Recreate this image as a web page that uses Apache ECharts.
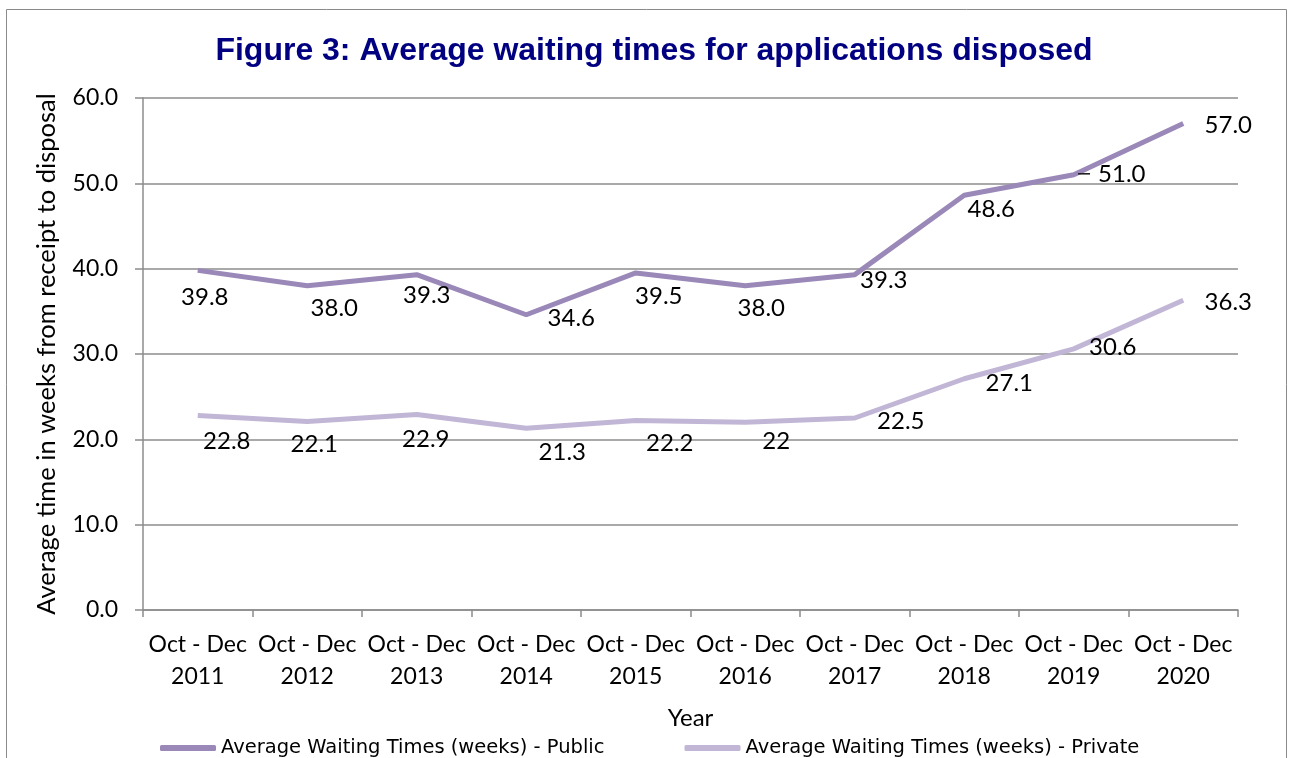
<!DOCTYPE html>
<html>
<head>
<meta charset="utf-8">
<script src="https://cdn.jsdelivr.net/npm/echarts@6/dist/echarts.min.js"></script>
<style>
html,body{margin:0;padding:0;background:#fff;}
#chart{width:1292px;height:758px;}
</style>
</head>
<body>
<div id="chart"></div>
<script>
// ---- data ----
const categories = ['Oct - Dec\n2011','Oct - Dec\n2012','Oct - Dec\n2013','Oct - Dec\n2014','Oct - Dec\n2015','Oct - Dec\n2016','Oct - Dec\n2017','Oct - Dec\n2018','Oct - Dec\n2019','Oct - Dec\n2020'];
const publicValues = [39.8, 38.0, 39.3, 34.6, 39.5, 38.0, 39.3, 48.6, 51.0, 57.0];
const privateValues = [22.8, 22.1, 22.9, 21.3, 22.2, 22, 22.5, 27.1, 30.6, 36.3];
const publicLabels = ['39.8','38.0','39.3','34.6','39.5','38.0','39.3','48.6','51.0','57.0'];
const privateLabels = ['22.8','22.1','22.9','21.3','22.2','22','22.5','27.1','30.6','36.3'];
const yTicks = [0, 10, 20, 30, 40, 50, 60];
const seriesNames = ['Average Waiting Times (weeks) - Public', 'Average Waiting Times (weeks) - Private'];

// ---- label placement (style only) ----
const publicOffsets = [[7,27],[27,23],[10,21],[45,4],[23,23],[16,23],[29,6],[27,14],[38,-1],[45,2]];
const privateOffsets = [[29,26],[7,23],[9,25],[36,24],[34,23],[31,19],[46,3],[45,5],[39,-2],[45,2]];
const leaderIndex = 8;

const labelFont = {fontFamily:'Lato', fontSize:24, color:'#000'};

function buildData(values, labels, offsets, withLeader) {
  return values.map((v, i) => {
    const lbl = {offset: offsets[i]};
    if (withLeader && i === leaderIndex) {
      lbl.formatter = '{ld|}{sp|}{t|' + labels[i] + '}';
    } else {
      lbl.formatter = labels[i];
    }
    return {value: v, label: lbl};
  });
}

const chart = echarts.init(document.getElementById('chart'), null, {renderer:'canvas'});
const gridColor = '#8c8c8c';
chart.setOption({
  animation: false,
  backgroundColor: '#fff',
  title: {
    text: 'Figure 3: Average waiting times for applications disposed',
    left: 649, top: 30, textAlign: 'center',
    textStyle: {fontFamily:'Liberation Sans', fontWeight:'bold', fontSize:32, color:'#000080'}
  },
  graphic: [{
    type:'rect', silent:true,
    shape:{x:6.5, y:9.5, width:1280, height:800},
    style:{fill:'none', stroke:'#8a8a8a', lineWidth:1}
  }],
  legend: {
    left: 155, top: 733,
    icon: 'roundRect', itemWidth: 56, itemHeight: 6, itemGap: 80,
    textStyle: {fontFamily:'DejaVu Sans', fontSize:19.5, color:'#000'},
    data: seriesNames
  },
  grid: {left:143, right:54, top:98, bottom:148, containLabel:false},
  xAxis: {
    type:'category', data: categories, boundaryGap:true,
    name:'Year', nameLocation:'middle', nameGap:96,
    nameTextStyle:{fontFamily:'Lato', fontSize:24, color:'#000'},
    axisLine:{show:true, lineStyle:{color:gridColor, width:1.5}},
    axisTick:{show:true, interval:0, length:7, lineStyle:{color:gridColor, width:1.5}},
    axisLabel:{interval:0, margin:19, fontFamily:'Lato', fontSize:23, lineHeight:32, color:'#000'}
  },
  yAxis: {
    type:'value', min:yTicks[0], max:yTicks[yTicks.length-1], interval:yTicks[1]-yTicks[0],
    name:'Average time in weeks from receipt to disposal', nameLocation:'middle', nameGap:83, nameRotate:90,
    nameTextStyle:{fontFamily:'Lato', fontSize:25.5, color:'#000'},
    axisLine:{show:true, lineStyle:{color:gridColor, width:1.5}},
    axisTick:{show:true, length:8, lineStyle:{color:gridColor, width:1.5}},
    splitLine:{show:true, lineStyle:{color:gridColor, width:1.5}},
    axisLabel:{margin:25, fontFamily:'Lato', fontSize:23, color:'#000', formatter: v => v.toFixed(1)}
  },
  series: [
    {
      name: seriesNames[0], type:'line',
      data: buildData(publicValues, publicLabels, publicOffsets, true),
      symbol:'circle', symbolSize:0.1, showSymbol:true,
      itemStyle:{color:'#9a88b8'},
      lineStyle:{color:'#9a88b8', width:5},
      label:{show:true, position:'inside', ...labelFont,
        rich:{
          ld:{width:12, height:1.6, backgroundColor:'#222', align:'left'},
          sp:{width:8},
          t:{...labelFont}
        }},
      z:3
    },
    {
      name: seriesNames[1], type:'line',
      data: buildData(privateValues, privateLabels, privateOffsets, false),
      symbol:'circle', symbolSize:0.1, showSymbol:true,
      itemStyle:{color:'#c1b6d5'},
      lineStyle:{color:'#c1b6d5', width:5},
      label:{show:true, position:'inside', ...labelFont},
      z:2
    }
  ]
});
</script>
</body>
</html>
